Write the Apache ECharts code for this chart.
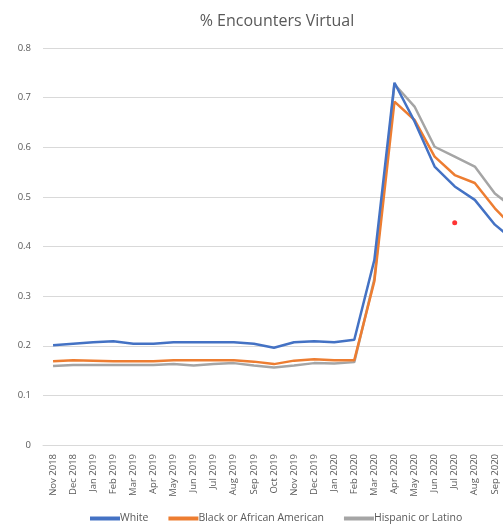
<!DOCTYPE html>
<html>
<head>
<meta charset="utf-8">
<script src="https://cdn.jsdelivr.net/npm/echarts@6/dist/echarts.min.js"></script>
<style>
html,body{margin:0;padding:0;background:#fff;}
#chart{width:503px;height:529px;}
</style>
</head>
<body>
<div id="chart"></div>
<script>
const months = ["Nov 2018","Dec 2018","Jan 2019","Feb 2019","Mar 2019","Apr 2019","May 2019","Jun 2019","Jul 2019","Aug 2019","Sep 2019","Oct 2019","Nov 2019","Dec 2019","Jan 2020","Feb 2020","Mar 2020","Apr 2020","May 2020","Jun 2020","Jul 2020","Aug 2020","Sep 2020","Oct 2020"];
const white = [0.201,0.204,0.207,0.209,0.204,0.204,0.207,0.207,0.207,0.207,0.204,0.196,0.207,0.209,0.207,0.212,0.373,0.730,0.652,0.561,0.521,0.494,0.444,0.410];
const black = [0.169,0.171,0.170,0.169,0.169,0.169,0.171,0.171,0.171,0.171,0.168,0.163,0.170,0.173,0.171,0.171,0.330,0.692,0.655,0.581,0.544,0.528,0.477,0.435];
const hispanic = [0.159,0.161,0.161,0.161,0.161,0.161,0.163,0.160,0.163,0.165,0.160,0.156,0.160,0.165,0.164,0.167,0.335,0.727,0.682,0.601,0.581,0.561,0.507,0.475];
const markerPoint = [["Jul 2020", 0.448]];
const yTicks = [0,0.1,0.2,0.3,0.4,0.5,0.6,0.7,0.8];

const font = "'Open Sans', 'Noto Sans', sans-serif";
const chart = echarts.init(document.getElementById('chart'));
chart.setOption({
  animation: false,
  backgroundColor: '#fff',
  title: {
    text: '% Encounters Virtual',
    left: 272, top: 8,
    textAlign: 'center',
    textStyle: {fontFamily: font, fontSize: 16, fontWeight: 'normal', color: '#595959'}
  },
  legend: {
    bottom: 0, left: 85,
    itemWidth: 30, itemHeight: 4, itemGap: 20,
    icon: 'rect',
    textStyle: {fontFamily: font, fontSize: 10.5, color: '#595959', padding: [0,0,0,-5]},
    data: ['White','Black or African American','Hispanic or Latino']
  },
  grid: {left: 43, top: 48, width: 482, height: 397, containLabel: false, outerBoundsMode: 'none'},
  xAxis: {
    type: 'category',
    data: months,
    boundaryGap: true,
    axisLine: {lineStyle: {color: '#D9D9D9', width: 1}},
    axisTick: {show: false},
    axisLabel: {rotate: 90, interval: 0, margin: 9, fontFamily: font, fontSize: 9.5, color: '#595959'}
  },
  yAxis: {
    type: 'value',
    min: yTicks[0], max: yTicks[yTicks.length-1], interval: 0.1,
    axisLine: {show: false},
    axisTick: {show: false},
    splitLine: {lineStyle: {color: '#D9D9D9', width: 1}},
    axisLabel: {margin: 12, fontFamily: font, fontSize: 9.5, color: '#595959',
      formatter: v => (Math.round(v*10)/10).toString()}
  },
  series: [
    {name: 'White', type: 'line', data: white, showSymbol: false, lineStyle: {width: 2.5, color: '#4472C4'}, itemStyle: {color: '#4472C4'}, z: 3},
    {name: 'Black or African American', type: 'line', data: black, showSymbol: false, lineStyle: {width: 2.5, color: '#ED7D31'}, itemStyle: {color: '#ED7D31'}, z: 2},
    {name: 'Hispanic or Latino', type: 'line', data: hispanic, showSymbol: false, lineStyle: {width: 2.5, color: '#A5A5A5'}, itemStyle: {color: '#A5A5A5'}, z: 1},
    {name: 'marker', type: 'scatter', data: markerPoint, symbolSize: 5, itemStyle: {color: '#FF0000'}, z: 4}
  ]
});
</script>
</body>
</html>
